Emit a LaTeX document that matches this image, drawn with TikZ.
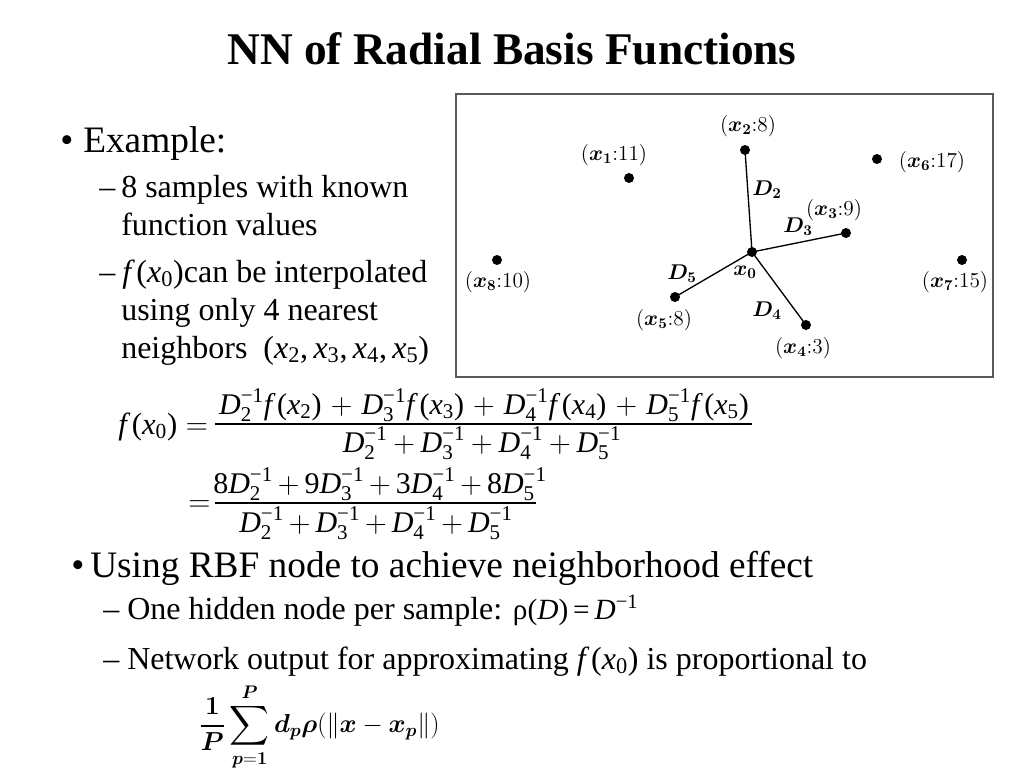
\RequirePackage{fix-cm}
\documentclass[tikz,border=0pt]{standalone}
\usepackage{amsmath,bm}
\usepackage[no-math]{fontspec}
\setmainfont{Liberation Serif}
\newcommand\Ti[1]{\textit{#1}}
\newcommand\Tr[1]{\text{#1}}
\newcommand\Dm[1]{\Ti{D}^{\Tr{−1}}_{\Tr{#1}}}
\newcommand\fx[1]{\Ti{f}\,\Tr{(}\Ti{x}_{\Tr{#1}}\Tr{)}}
\newcommand\lbl[2]{$(\bm{x}_{\mathbf{#1}}{:}#2)$}
\tikzset{
  txt/.style={anchor=base west, inner sep=0pt},
  eqpart/.style={anchor=base, inner sep=0pt, font=\fontsize{22.5}{27}\selectfont},
  dot/.style={circle, fill=black, inner sep=0pt, minimum size=7.5pt},
  ptlbl/.style={inner sep=0pt, font=\fontsize{16}{19}\selectfont},
  link/.style={line width=1pt},
  fracrule/.style={line width=0.9pt},
}
\begin{document}
\begin{tikzpicture}[x=0.75pt,y=-0.75pt]
\fill[white] (0,0) rectangle (1024,768);
\useasboundingbox (0,0) rectangle (1024,768);
% title
\node[anchor=base, inner sep=0pt] (title) at (512,64) {\fontsize{34}{40}\selectfont\bfseries NN of Radial Basis Functions};
% first bullet block
\node[txt] (b1) at (60,152) {\fontsize{28}{32}\selectfont •};
\node[txt] (ex) at (83,152) {\fontsize{28}{32}\selectfont Example:};
\node[txt] (d1) at (99,197) {\fontsize{24}{28}\selectfont –};
\node[txt] (s1a) at (121,197) {\fontsize{24}{28}\selectfont 8 samples with known};
\node[txt] (s1b) at (121,235) {\fontsize{24}{28}\selectfont function values};
\node[txt] (d2) at (99,282) {\fontsize{24}{28}\selectfont –};
\node[txt] (s2a) at (122,282) {\fontsize{24}{28}\selectfont $\fx{0}$can be interpolated};
\node[txt] (s2b) at (121,320) {\fontsize{24}{28}\selectfont using only 4 nearest};
\node[txt] (s2c) at (121,358) {\fontsize{24}{28}\selectfont neighbors\ \ $\Tr{(}\Ti{x}_{\Tr2}\Tr{,}\,\Ti{x}_{\Tr3}\Tr{,}\,\Ti{x}_{\Tr4}\Tr{,}\,\Ti{x}_{\Tr5}\Tr{)}$};
% box figure
\draw[line width=1.5pt, draw=black!65] (456,94) rectangle (993,377);
\node[dot] (p0) at (752,252) {};
\node[dot] (p1) at (629,178) {};
\node[dot] (p2) at (745,150) {};
\node[dot] (p3) at (846,233) {};
\node[dot] (p4) at (806,325) {};
\node[dot] (p5) at (675,297) {};
\node[dot] (p6) at (877,159) {};
\node[dot] (p7) at (962,260) {};
\node[dot] (p8) at (497,260) {};
\draw[link] (p0.center) -- (p2.center);
\draw[link] (p0.center) -- (p3.center);
\draw[link] (p0.center) -- (p4.center);
\draw[link] (p0.center) -- (p5.center);
\node[ptlbl] (l1) at (614,155) {\lbl{1}{11}};
\node[ptlbl] (l2) at (748,126) {\lbl{2}{8}};
\node[ptlbl] (l3) at (834,210) {\lbl{3}{9}};
\node[ptlbl] (l4) at (803,348) {\lbl{4}{3}};
\node[ptlbl] (l5) at (664,320) {\lbl{5}{8}};
\node[ptlbl] (l6) at (932,162) {\lbl{6}{17}};
\node[ptlbl] (l7) at (955,282) {\lbl{7}{15}};
\node[ptlbl] (l8) at (498,282) {\lbl{8}{10}};
\node[ptlbl] (l0) at (745,272) {$\bm{x}_{\mathbf 0}$};
\node[ptlbl] (D2) at (767,190) {$\bm{D}_{\mathbf 2}$};
\node[ptlbl] (D3) at (798,227) {$\bm{D}_{\mathbf 3}$};
\node[ptlbl] (D4) at (767,311) {$\bm{D}_{\mathbf 4}$};
\node[ptlbl] (D5) at (682,274) {$\bm{D}_{\mathbf 5}$};
% formula, line 1
\node[txt, font=\fontsize{23}{28}\selectfont] (lhs1) at (118,434) {$\fx{0} =$};
\node[eqpart] (num1) at (484,414) {$\medmuskip=5.5mu \Dm2\fx2+\Dm3\fx3+\Dm4\fx4+\Dm5\fx5$};
\draw[fracrule] (215,424) -- (752,424);
\node[eqpart] (den1) at (482,452) {$\medmuskip=3.5mu \Dm2+\Dm3+\Dm4+\Dm5$};
% formula, line 2
\node[txt, font=\fontsize{23}{28}\selectfont] (lhs2) at (188,511) {$=$};
\node[eqpart] (num2) at (380,493) {$\medmuskip=3mu \Tr{8}\Dm2+\Tr{9}\Dm3+\Tr{3}\Dm4+\Tr{8}\Dm5$};
\draw[fracrule] (215,503) -- (536,503);
\node[eqpart] (den2) at (376,532) {$\medmuskip=3mu \Dm2+\Dm3+\Dm4+\Dm5$};
% second bullet block
\node[txt] (b2) at (71,577) {\fontsize{28}{32}\selectfont •};
\node[txt] (us) at (90,577) {\fontsize{28}{32}\selectfont Using RBF node to achieve neighborhood effect};
\node[txt] (d3) at (103,619) {\fontsize{24}{28}\selectfont –};
\node[txt] (s3) at (127,619) {\fontsize{24}{28}\selectfont One hidden node per sample: {\fontsize{22}{26}\selectfont ρ(\textit{D})\,=\,\textit{D}\textsuperscript{−1}}};
\node[txt] (d4) at (103,669) {\fontsize{24}{28}\selectfont –};
\node[txt] (s4) at (127,669) {\fontsize{24}{28}\selectfont Network output for approximating $\fx{0}$ is proportional to};
\node[anchor=west, inner sep=0pt] (eq3) at (199,727) {\fontsize{19.5}{23}\selectfont $\displaystyle \frac{\mathbf 1}{\bm P}\sum_{\bm p=\mathbf 1}^{\bm P}\bm d_{\bm p}\bm\rho(\|\bm x-\bm x_{\bm p}\|)$};
\end{tikzpicture}
\end{document}
